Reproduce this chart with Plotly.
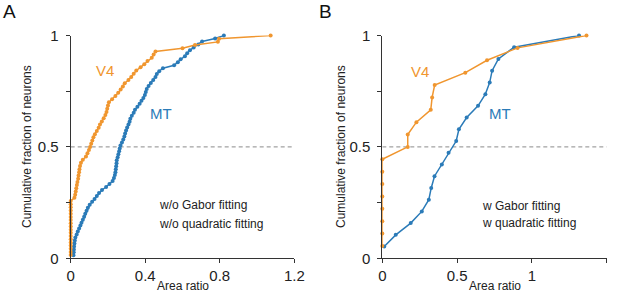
import plotly.graph_objects as go

# ---------------- data (area ratio of each neuron, sorted) ----------------
V4_A_area = [0]*18 + [
    0.020, 0.024, 0.027, 0.030, 0.033, 0.036, 0.040, 0.042, 0.045, 0.047,
    0.050, 0.055, 0.065, 0.082, 0.090, 0.098, 0.104, 0.110, 0.116, 0.122,
    0.130, 0.140, 0.150, 0.157, 0.167, 0.177, 0.186, 0.192, 0.196, 0.200,
    0.205, 0.222, 0.240, 0.255, 0.268, 0.280, 0.290, 0.310, 0.325, 0.338,
    0.352, 0.375, 0.395, 0.412, 0.435, 0.445, 0.455, 0.600, 0.667, 0.790,
    0.796, 1.073]
MT_A_area = [
    0.015, 0.016, 0.017, 0.018, 0.020, 0.022, 0.025, 0.032, 0.038, 0.045,
    0.052, 0.058, 0.065, 0.072, 0.078, 0.085, 0.092, 0.102, 0.115, 0.128,
    0.140, 0.152, 0.168, 0.190, 0.208, 0.225, 0.232, 0.237, 0.240, 0.242,
    0.244, 0.246, 0.247, 0.252, 0.256, 0.260, 0.263, 0.267, 0.275, 0.282,
    0.288, 0.292, 0.297, 0.303, 0.310, 0.316, 0.320, 0.328, 0.338, 0.345,
    0.358, 0.370, 0.380, 0.390, 0.398, 0.403, 0.408, 0.418, 0.430, 0.443,
    0.455, 0.462, 0.475, 0.495, 0.555, 0.575, 0.590, 0.613, 0.625, 0.640,
    0.660, 0.685, 0.705, 0.775, 0.822]
V4_B_area = [0, 0, 0, 0, 0, 0, 0, 0, 0.17, 0.17, 0.228, 0.324, 0.333, 0.35,
             0.555, 0.70, 0.904, 1.365]
MT_B_area = [0.013, 0.09, 0.19, 0.264, 0.311, 0.327, 0.349, 0.398, 0.443,
             0.494, 0.512, 0.564, 0.64, 0.689, 0.718, 0.734, 0.776, 0.881, 1.315]

def cum_frac(vals):
    n = len(vals)
    return [(i + 1) / n for i in range(n)]

X_TICKS_A = [0, 0.4, 0.8, 1.2]
X_TICKS_B = [0, 0.5, 1, 1.5]
Y_TICKS = [0, 0.25, 0.5, 0.75, 1]
Y_TICK_TEXT = ["0", "", "0.5", "", "1"]

ORANGE = "#F0962F"
BLUE = "#2B7BB8"
AXC = "#333333"
FONT = "Liberation Sans, Arial, sans-serif"

W, H = 617, 300

def px(xp):
    return xp / W

def py(yp):
    return 1 - yp / H

fig = go.Figure()

def add_series(xs, color, xa, ya):
    fig.add_trace(go.Scatter(
        x=xs, y=cum_frac(xs), mode="lines+markers", xaxis=xa, yaxis=ya,
        line=dict(color=color, width=1.5),
        marker=dict(color=color, size=4),
        cliponaxis=False, showlegend=False, hoverinfo="skip"))

add_series(MT_A_area, BLUE, "x", "y")
add_series(V4_A_area, ORANGE, "x", "y")
add_series(MT_B_area, BLUE, "x2", "y2")
add_series(V4_B_area, ORANGE, "x2", "y2")

# dashed 0.5 reference lines
fig.add_shape(type="line", xref="x", yref="y", x0=0, x1=1.2, y0=0.5, y1=0.5,
              line=dict(color="#8a8a8a", width=1, dash="4px,3px"), layer="below")
fig.add_shape(type="line", xref="x2", yref="y2", x0=0, x1=1.5, y0=0.5, y1=0.5,
              line=dict(color="#8a8a8a", width=1, dash="4px,3px"), layer="below")

ydom = [py(258.3), py(35.5)]
axis_common = dict(showline=True, linecolor=AXC, linewidth=1, ticks="outside",
                   ticklen=4, tickcolor=AXC, tickwidth=1, showgrid=False,
                   zeroline=False, automargin=False,
                   tickfont=dict(family=FONT, size=15, color="#222"),
                   fixedrange=True)

fig.update_layout(
    template="none",
    width=W, height=H, margin=dict(l=0, r=0, t=0, b=0, autoexpand=False),
    paper_bgcolor="white", plot_bgcolor="white",
    font=dict(family=FONT, color="#222"),
    hovermode=False,
    xaxis=dict(domain=[px(70.7), px(294.3)], range=[0, 1.2], tickvals=X_TICKS_A,
               anchor="y", **axis_common),
    yaxis=dict(domain=ydom, range=[0, 1], tickvals=Y_TICKS, ticktext=Y_TICK_TEXT,
               anchor="x", ticklabelstandoff=4, **axis_common),
    xaxis2=dict(domain=[px(382.3), px(606.7)], range=[0, 1.5], tickvals=X_TICKS_B,
                anchor="y2", **axis_common),
    yaxis2=dict(domain=ydom, range=[0, 1], tickvals=Y_TICKS, ticktext=Y_TICK_TEXT,
                anchor="x2", ticklabelstandoff=4, **axis_common),
)

def ann(text, x, y, size, color="#222", xanchor="center", angle=0):
    fig.add_annotation(text=text, x=px(x), y=py(y), xref="paper", yref="paper",
                       showarrow=False, xanchor=xanchor, yanchor="middle",
                       textangle=angle, font=dict(family=FONT, size=size, color=color))

# panel letters
ann("A", 9.5, 11.5, 19, "#111")
ann("B", 325, 11.5, 19, "#111")
# axis titles
ann("Area ratio", 182.5, 286, 12)
ann("Area ratio", 494.5, 286, 12)
ann("Cumulative fraction of neurons", 27, 147, 12, angle=-90)
ann("Cumulative fraction of neurons", 341, 147, 12, angle=-90)
# series labels
ann("V4", 104.5, 70, 15, ORANGE)
ann("MT", 161, 113.5, 15, BLUE)
ann("V4", 420, 71.5, 15, ORANGE)
ann("MT", 500, 113.5, 15, BLUE)
# condition notes
ann("w/o Gabor fitting", 157, 205, 12, xanchor="left")
ann("w/o quadratic fitting", 157, 223.5, 12, xanchor="left")
ann("w Gabor fitting", 480, 206, 12, xanchor="left")
ann("w quadratic fitting", 480, 222.5, 12, xanchor="left")

# remove the page's default body margin so the figure sits at the top-left corner
fig.write_html("out.html", config={"displayModeBar": False},
               post_script="document.body.style.margin='0';")
